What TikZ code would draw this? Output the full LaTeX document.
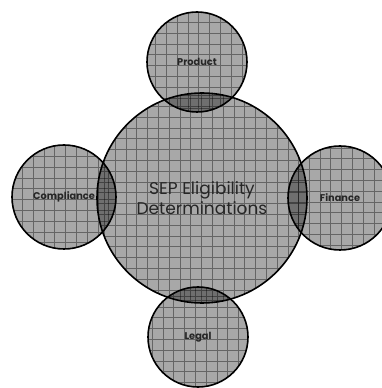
\documentclass[tikz,border=0pt]{standalone}
\usepackage{fontspec}
\setmainfont{Poppins}
\usepackage{tikz}
\usetikzlibrary{shapes,positioning,calc}
\tikzstyle{gridline} = [draw=black, draw opacity=0.4, line width=0.7pt, step=10.8pt]
\tikzstyle{area} = [circle, draw=black, line width=1.6pt, fill=black, fill opacity=0.34, text opacity=1, text=black!85, text centered,
  path picture={\draw[gridline] ($(path picture bounding box.south west)+(-12,-12)$) grid ($(path picture bounding box.north east)+(12,12)$);}]
\tikzstyle{core} = [area, minimum size=210pt, font=\fontsize{17}{20}\selectfont, align=center]
\tikzstyle{side} = [area, minimum size=104pt, font=\bfseries\fontsize{9.8}{11}\selectfont]

\begin{document}
\begin{tikzpicture}[x=1pt, y=1pt]

\useasboundingbox (0,0) rectangle (381,388);

% circles =============================

% nodes
\node[core] (sep) at (202,190) {SEP Eligibility\\Determinations};
\node[side, minimum size=100pt] (product) at (197,326) {Product};
\node[side] (compliance) at (64,191) {Compliance};
\node[side] (finance) at (340,190) {Finance};
\node[side, minimum size=100pt] (legal) at (198,51) {Legal};

\end{tikzpicture}
\end{document}
